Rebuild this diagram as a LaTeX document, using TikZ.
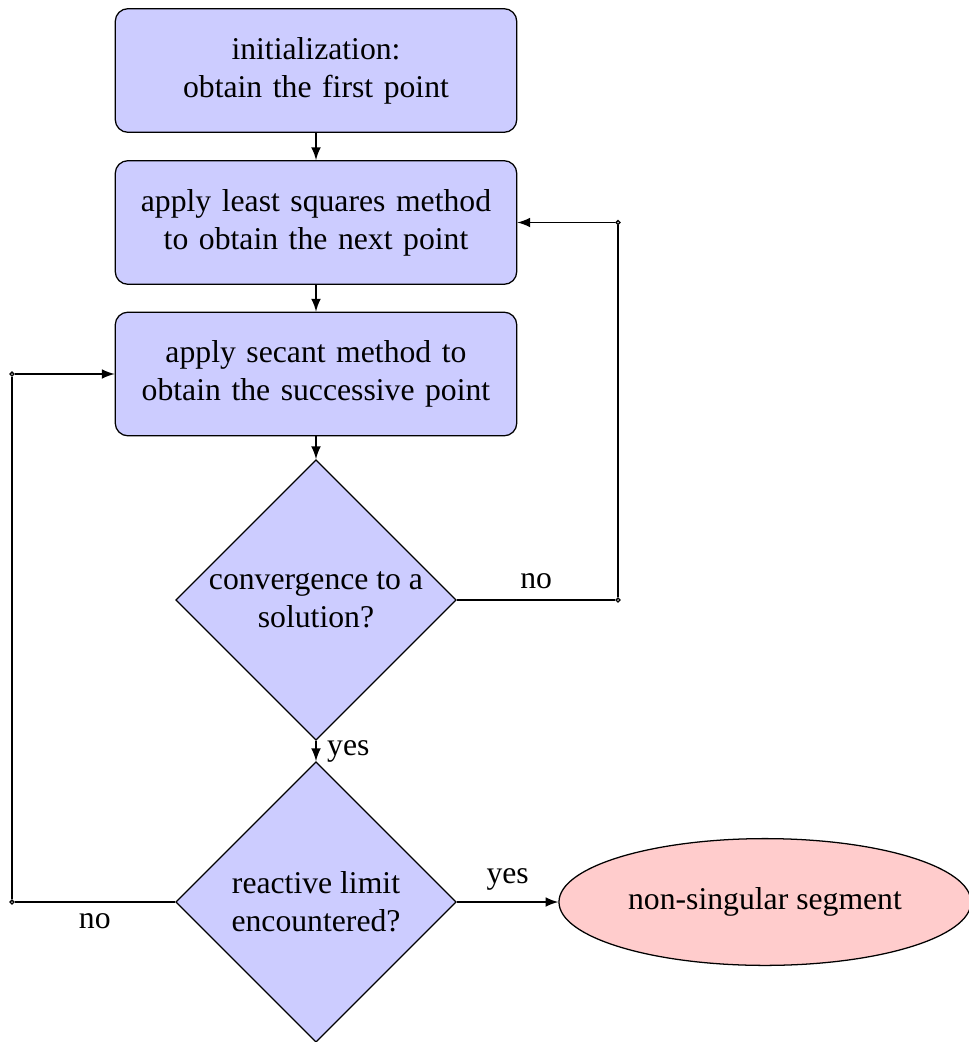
\documentclass[tikz,border=0pt]{standalone}
\usepackage{fontspec}
\setmainfont{Liberation Serif}
\usepackage{tikz}
\usetikzlibrary{shapes.geometric}

\begin{document}
\begin{tikzpicture}[x=0.3155pt,y=-0.3155pt]
  \tikzstyle{block}=[rectangle,draw,fill=blue!20,rounded corners,text width=120pt,align=center,minimum width=126.4pt,minimum height=39pt]
  \tikzstyle{decision}=[diamond,draw,fill=blue!20,align=center,inner sep=0pt,minimum width=88.5pt,minimum height=88.5pt]
  \tikzstyle{cloud}=[ellipse,draw,fill=red!20,inner sep=2.5pt,minimum width=130pt,minimum height=40pt]
  \tikzstyle{corner}=[circle,draw,inner sep=0pt,minimum size=1.2pt]
  \tikzstyle{line}=[-latex]
  \useasboundingbox (0,0) rectangle (969,1042);
  \node[block] (init) at (316,70.5) {initialization:\\obtain the first point};
  \node[block] (lsq) at (316,222.5) {apply least squares method to obtain the next point};
  \node[block] (secant) at (316,374) {apply secant method to obtain the successive point};
  \node[decision] (conv) at (316,600) {convergence to a\\solution?};
  \node[decision] (react) at (316,902) {reactive limit\\encountered?};
  \node[cloud] (seg) at (765,902) {non-singular segment};
  \node[corner] (r1) at (618,600) {};
  \node[corner] (r2) at (618,222.5) {};
  \node[corner] (l1) at (12,902) {};
  \node[corner] (l2) at (12,374) {};
  \draw[line] (init) -- (lsq);
  \draw[line] (lsq) -- (secant);
  \draw[line] (secant) -- (conv);
  \draw[line] (conv) -- node[right] {yes} (react);
  \draw[line] (react) -- node[above] {yes} (seg);
  \draw (conv) -- node[above] {no} (r1);
  \draw (r1) -- (r2);
  \draw[line] (r2) -- (lsq);
  \draw (react) -- node[below] {no} (l1);
  \draw (l1) -- (l2);
  \draw[line] (l2) -- (secant);
\end{tikzpicture}
\end{document}
